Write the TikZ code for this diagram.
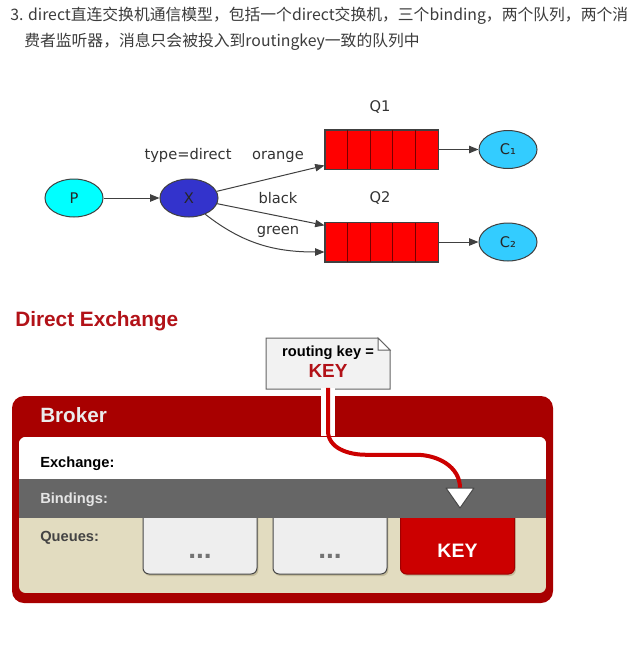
\documentclass[tikz,border=0pt]{standalone}
\usepackage{fontspec}
\setmainfont{Liberation Sans}
\newfontfamily\cjkfont{Noto Sans CJK SC}
\newfontfamily\djvfont{DejaVu Sans}
\usetikzlibrary{shapes.geometric,arrows.meta,calc,shadows}
\definecolor{txtgray}{RGB}{60,60,60}
\definecolor{lblgray}{RGB}{51,51,51}
\definecolor{linegray}{RGB}{64,64,64}
\definecolor{pcyan}{RGB}{0,255,255}
\definecolor{xblue}{RGB}{51,51,204}
\definecolor{ccyan}{RGB}{51,204,255}
\definecolor{qred}{RGB}{255,0,0}
\definecolor{qdiv}{RGB}{120,0,0}
\definecolor{brokerred}{RGB}{168,0,0}
\definecolor{keyred}{RGB}{204,0,0}
\definecolor{keyborder}{RGB}{160,0,0}
\definecolor{titlered}{RGB}{178,18,24}
\definecolor{bandgray}{RGB}{102,102,102}
\definecolor{tanbg}{RGB}{226,220,192}
\definecolor{tanshadow}{RGB}{195,187,155}
\definecolor{boxgray}{RGB}{238,238,238}
\definecolor{boxborder}{RGB}{72,72,72}
\definecolor{notegray}{RGB}{242,242,242}
\definecolor{noteborder}{RGB}{100,100,100}
\definecolor{dotgray}{RGB}{115,115,115}
\definecolor{queuelbl}{RGB}{68,68,68}
\begin{document}
\begin{tikzpicture}[x=0.75pt,y=-0.75pt,
  cjktext/.style={font=\cjkfont\fontsize{11.85}{16}\selectfont, text=txtgray, inner sep=0pt},
  ell/.style={ellipse, draw=linegray, line width=0.75pt, minimum width=43.5pt, minimum height=28.5pt, inner sep=0pt, font=\djvfont\fontsize{11}{13}\selectfont, text=black!85},
  queue/.style={rectangle, draw=linegray, fill=qred, line width=0.75pt, minimum width=84.75pt, minimum height=29.25pt, inner sep=0pt},
  qdivider/.style={draw=qdiv, line width=0.75pt},
  arr/.style={-{Triangle[length=7pt,width=5.5pt]}, line width=0.75pt, draw=linegray},
  lbl/.style={font=\djvfont\fontsize{11}{13}\selectfont, text=lblgray, inner sep=0pt},
  lab/.style={font=\bfseries\fontsize{11}{13}\selectfont, inner sep=0pt, anchor=west},
  qbox/.style={rectangle, rounded corners=4.5pt, draw=boxborder, fill=boxgray, line width=0.75pt,
    minimum width=85.5pt, minimum height=51.75pt, inner sep=0pt,
    drop shadow={shadow xshift=1pt, shadow yshift=-1.5pt, fill=tanshadow, opacity=1}},
  dots/.style={font=\bfseries\fontsize{21}{22}\selectfont, text=dotgray, inner sep=0pt}
]
\fill[white] (0,0) rectangle (637,646);
\useasboundingbox (0,0) rectangle (637,646);

% heading text
\node[cjktext, anchor=base west] (t1) at (10,20) {3. direct直连交换机通信模型，包括一个direct交换机，三个binding，两个队列，两个消};
\node[cjktext, anchor=base west] (t2) at (24,46) {费者监听器，消息只会被投入到routingkey一致的队列中};

% ---------- top diagram ----------
\node[ell, fill=pcyan] (P) at (74,198) {P};
\node[ell, fill=xblue] (X) at (189,198) {X};
\node[queue] (Q1) at (381.5,149.5) {};
\node[queue] (Q2) at (381.5,242) {};
\foreach \f in {0.2,0.4,0.6,0.8} {
  \draw[qdivider] ($(Q1.north west)!\f!(Q1.north east)$) -- ($(Q1.south west)!\f!(Q1.south east)$);
  \draw[qdivider] ($(Q2.north west)!\f!(Q2.north east)$) -- ($(Q2.south west)!\f!(Q2.south east)$);
}
\draw[draw=linegray, line width=0.75pt] (Q1.north west) rectangle (Q1.south east);
\draw[draw=linegray, line width=0.75pt] (Q2.north west) rectangle (Q2.south east);
\node[ell, fill=ccyan] (C1) at (508,149.5) {C₁};
\node[ell, fill=ccyan] (C2) at (508,242) {C₂};

\node[lbl] (lq1) at (380,107) {Q1};
\node[lbl] (lq2) at (380,198) {Q2};
\node[lbl] (ltype) at (188,155) {type=direct};
\node[lbl] (lor) at (278,157) {orange};
\node[lbl] (lbk) at (278,198) {black};
\node[lbl] (lgr) at (278,232) {green};

\draw[arr] (P) -- (X);
\draw[arr] (X) -- ([yshift=3pt]Q1.south west);
\draw[arr] (X) -- ([yshift=-2.5pt]Q2.north west);
\draw[arr] (X.-45) to[out=-38,in=180] ([yshift=7.5pt]Q2.south west);
\draw[arr] (Q1) -- (C1);
\draw[arr] (Q2) -- (C2);

% ---------- bottom diagram ----------
\node[font=\bfseries\fontsize{15.6}{18}\selectfont, text=titlered, anchor=west, inner sep=0pt] (DE) at (15,321.5) {Direct Exchange};

% note with folded corner
\filldraw[fill=notegray, draw=noteborder, line width=0.75pt]
  (266,338) -- (378,338) -- (390,350) -- (390,389) -- (266,389) -- cycle;
\filldraw[fill=white, draw=noteborder, line width=0.75pt]
  (378,338) -- (378,350) -- (390,350) -- cycle;
\node[minimum width=93pt, minimum height=38.25pt, inner sep=0pt, align=center, font=\bfseries] (N) at (328,362)
  {\fontsize{11}{13}\selectfont routing key =\\[2.5pt]\fontsize{14.2}{16}\selectfont\color{titlered}KEY};

% broker frame
\fill[brokerred, rounded corners=9pt] (12,396) rectangle (553,603);
\node[font=\bfseries\fontsize{15.5}{18}\selectfont, text=white!92!black, anchor=west, inner sep=0pt] (BR) at (40,415.5) {Broker};

\begin{scope}
  \clip[rounded corners=5pt] (19,437) rectangle (546,593);
  \fill[tanbg] (19,437) rectangle (546,593);
  \fill[white] (19,437) rectangle (546,479);
  \node[qbox] (B1) at (200,539.5) {};
  \node[qbox] (B2) at (330,539.5) {};
  \node[qbox, fill=keyred, draw=keyborder] (B3) at (457.5,539.5) {};
  \fill[bandgray] (19,479) rectangle (546,518);
\end{scope}

\node[lab] (EL) at (40,463.5) {Exchange:};
\node[lab, text=white!90!black] (BL) at (40,499.5) {Bindings:};
\node[lab, text=queuelbl] (QL) at (40,537.5) {Queues:};

\node[dots] (d1) at ([yshift=-12.8pt]B1.center) {...};
\node[dots] (d2) at ([yshift=-12.8pt]B2.center) {...};
\node[font=\bfseries\fontsize{14.6}{16}\selectfont, text=white, inner sep=0pt] (K3) at ([yshift=-8.6pt]B3.center) {KEY};

% routing connector
\coordinate (T) at (460,488);
\draw[white, line width=11pt] (N.south) -- ++(0,48);
\draw[keyred, line width=3pt] (N.south) -- ++(0,43) to[out=-90,in=180] ++(38,24) -- ++(50,0) to[out=0,in=90] (T);
\filldraw[fill=white, draw=boxborder, line width=0.75pt, line join=round] (T) ++(-14,0) -- ++(28,0) -- ++(-14,20) -- cycle;
\end{tikzpicture}
\end{document}
